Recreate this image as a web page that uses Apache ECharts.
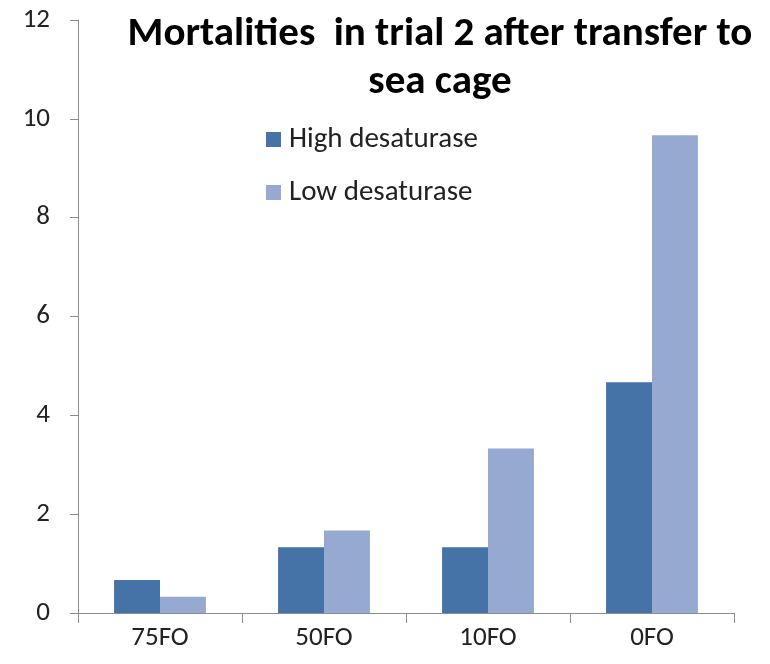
<!DOCTYPE html>
<html>
<head>
<meta charset="utf-8">
<script src="https://cdn.jsdelivr.net/npm/echarts@6/dist/echarts.min.js"></script>
<style>
  html, body { margin: 0; padding: 0; background: #fff; }
  #chart { width: 770px; height: 664px; }
</style>
</head>
<body>
<div id="chart"></div>
<script>
  // categories and values
  const categories = ['75FO', '50FO', '10FO', '0FO']
  const highDesaturase = [0.67, 1.33, 1.33, 4.67]
  const lowDesaturase = [0.33, 1.67, 3.33, 9.67]
  const seriesNames = ['High desaturase', 'Low desaturase']

  const myChart = echarts.init(document.getElementById('chart'))
  const axisColor = '#8c8c8c'
  const fontFamily = 'Carlito, "Liberation Sans Narrow", "Open Sans", sans-serif'

  const option = {
    backgroundColor: '#fff',
    animation: false,
    title: {
      text: 'Mortalities  in trial 2 after transfer to\nsea cage',
      left: 435,
      top: 6,
      textAlign: 'center',
      textStyle: {
        color: '#000',
        fontSize: 41,
        fontWeight: 'bold',
        fontFamily: fontFamily,
        lineHeight: 48
      }
    },
    legend: {
      orient: 'vertical',
      left: 261,
      top: 120,
      itemWidth: 15,
      itemHeight: 15,
      itemGap: 24,
      icon: 'rect',
      textStyle: { color: '#222', fontSize: 29, fontFamily: fontFamily, padding: [0, 0, 0, 3] },
      data: seriesNames
    },
    grid: { left: 78, right: 36, top: 20, bottom: 51 },
    xAxis: {
      type: 'category',
      data: categories,
      axisLine: { lineStyle: { color: axisColor, width: 1 } },
      axisTick: { show: true, inside: false, length: 10, lineStyle: { color: axisColor } },
      axisLabel: { color: '#222', fontSize: 27, margin: 12, fontFamily: fontFamily },
      splitLine: { show: false }
    },
    yAxis: {
      type: 'value',
      min: 0,
      max: 12,
      interval: 2,
      axisLine: { show: true, lineStyle: { color: axisColor, width: 1 } },
      axisTick: { show: true, length: 8, lineStyle: { color: axisColor } },
      axisLabel: { color: '#222', fontSize: 27, margin: 28, fontFamily: fontFamily },
      splitLine: { show: false }
    },
    series: [
      {
        name: seriesNames[0],
        type: 'bar',
        data: highDesaturase,
        barGap: '0%',
        barCategoryGap: '44%',
        itemStyle: { color: '#4572A7' }
      },
      {
        name: seriesNames[1],
        type: 'bar',
        data: lowDesaturase,
        itemStyle: { color: '#96A9D1' }
      }
    ]
  }
  myChart.setOption(option)
</script>
</body>
</html>
